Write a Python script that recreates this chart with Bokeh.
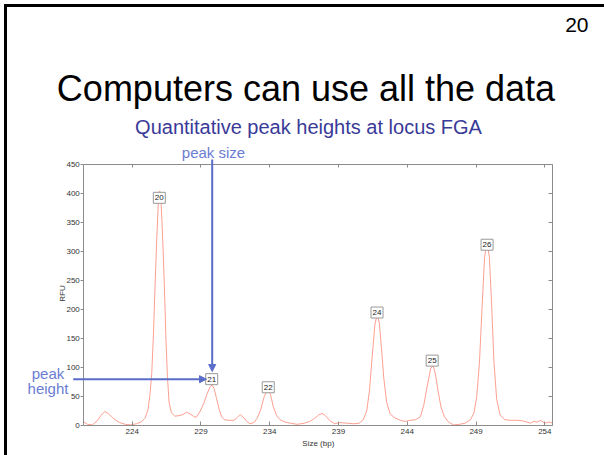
import math
from bokeh.plotting import figure
from bokeh.models import Range1d, LinearAxis, FixedTicker, Label, Arrow, NormalHead, ColumnDataSource
from bokeh.embed import file_html
from bokeh.resources import INLINE
from bokeh.core.properties import value

# ---- data ----
size_bp = [220.48, 220.75, 221.1, 221.45, 221.75, 222.0, 222.25, 222.5, 222.8, 223.1, 223.5, 223.9,
           224.3, 224.65, 224.95, 225.15, 225.3, 225.42, 225.55, 225.66, 225.78, 225.9, 226.0, 226.1,
           226.22, 226.34, 226.45, 226.56, 226.68, 226.85, 227.1, 227.4, 227.7, 227.95, 228.2, 228.45,
           228.65, 228.95, 229.2, 229.45, 229.65, 229.8, 229.95, 230.12, 230.3, 230.5, 230.7, 231.0,
           231.4, 231.65, 231.85, 232.05, 232.3, 232.55, 232.85, 233.1, 233.35, 233.6, 233.85, 234.05,
           234.25, 234.5, 234.75, 235.1, 235.5, 236.0, 236.5, 236.9, 237.25, 237.55, 237.8, 238.05,
           238.35, 238.7, 239.1, 239.6, 240.1, 240.5, 240.8, 241.05, 241.25, 241.45, 241.65, 241.82,
           241.98, 242.15, 242.3, 242.5, 242.75, 243.1, 243.5, 243.85, 244.2, 244.6, 244.95, 245.2,
           245.45, 245.7, 245.88, 246.05, 246.25, 246.45, 246.7, 247.0, 247.35, 247.8, 248.2, 248.6,
           248.85, 249.05, 249.25, 249.45, 249.62, 249.8, 249.97, 250.13, 250.3, 250.5, 250.75, 251.1,
           251.5, 252.0, 252.4, 252.7, 252.95, 253.2, 253.45, 253.7, 254.0, 254.3, 254.58]
rfu = [6, 2, 1, 8, 18, 24, 21, 15, 9, 5, 2, 1,
       3, 6, 13, 28, 55, 90, 160, 240, 320, 385, 405, 385,
       320, 240, 150, 85, 40, 22, 16, 17, 19, 23, 20, 16,
       14, 25, 38, 55, 66, 70, 64, 48, 30, 15, 10, 9,
       9, 14, 19, 15, 8, 3, 5, 13, 28, 50, 62, 54,
       33, 17, 10, 6, 4, 2, 4, 7, 12, 18, 21, 17,
       9, 3, 5, 4, 3, 4, 10, 25, 60, 120, 175, 192,
       175, 125, 80, 40, 20, 13, 9, 7, 9, 10, 15, 35,
       68, 98, 104, 88, 58, 32, 15, 6, 1, 2, 4, 10,
       22, 50, 110, 210, 290, 318, 290, 210, 110, 45, 18, 10,
       9, 9, 8, 6, 4, 7, 6, 9, 4, 6, 4]

peak_alleles = ["20", "21", "22", "24", "25", "26"]
peak_label_x = [225.97, 229.78, 233.89, 241.80, 245.81, 249.80]
peak_label_y = [393, 80, 66, 195, 112, 312]

x_ticks = [224, 229, 234, 239, 244, 249, 254]
y_ticks = [0, 50, 100, 150, 200, 250, 300, 350, 400, 450]
x_min, x_max = 220.48, 254.58
y_min, y_max = 0, 450

# ---- layout (canvas pixels) ----
W, H = 604, 455
PL, PR, PT, PB = 83.3, 552.3, 164.3, 425.0   # plot box edges
sx = (PR - PL) / (x_max - x_min)
sy = (PB - PT) / (y_max - y_min)


def dx(px):  # canvas pixel -> data x
    return x_min + (px - PL) / sx


def dy(py):  # canvas pixel -> data y
    return y_min + (PB - py) / sy


FONT = "Liberation Sans"
BLUE = "#5a6ec9"
TXTBLUE = "#6a7dd3"
AXC = "#8c8c8c"

p = figure(width=W, height=H, output_backend="svg", toolbar_location=None,
           x_range=Range1d(dx(0), dx(W)), y_range=Range1d(dy(H), dy(0)),
           min_border=0, x_axis_location=None, y_axis_location=None)
p.grid.visible = False
p.outline_line_color = None
p.background_fill_color = "white"
p.border_fill_color = "white"


def style_axis(ax, show_labels, tin, tout):
    ax.axis_line_color = AXC
    ax.major_tick_line_color = AXC
    ax.minor_tick_line_color = None
    ax.major_tick_in = tin
    ax.major_tick_out = tout
    ax.major_label_text_font = FONT
    ax.major_label_text_font_size = "8px"
    ax.major_label_text_color = "#333333" if show_labels else None
    ax.major_label_standoff = 3


xb = LinearAxis(ticker=FixedTicker(ticks=x_ticks), fixed_location=y_min, bounds=(x_min, x_max))
style_axis(xb, True, 4, 0)
p.add_layout(xb, "below")
xt = LinearAxis(ticker=FixedTicker(ticks=x_ticks), fixed_location=y_max, bounds=(x_min, x_max))
style_axis(xt, False, 3, 0)
p.add_layout(xt, "above")
yl = LinearAxis(ticker=FixedTicker(ticks=y_ticks), fixed_location=x_min, bounds=(y_min, y_max))
style_axis(yl, True, 0, 3)
yl.major_label_standoff = 1
p.add_layout(yl, "left")
yr = LinearAxis(ticker=FixedTicker(ticks=y_ticks), fixed_location=x_max, bounds=(y_min, y_max))
style_axis(yr, False, 4, 0)
p.add_layout(yr, "right")

# trace
p.line(size_bp, rfu, line_color="#ff9f90", line_width=1)

# peak labels
src = ColumnDataSource(dict(x=peak_label_x, y=peak_label_y, t=peak_alleles))
p.rect("x", "y", width=12, height=11, width_units="screen", height_units="screen", source=src,
       fill_color="white", line_color="#999999", line_width=1)
p.text("x", "y", text="t", source=src, text_align="center", text_baseline="middle",
       text_font=value(FONT), text_font_size="8px", text_color="#222222")


def add_text(px, py, text, size, color, align="center", angle=0.0):
    p.add_layout(Label(x=dx(px), y=dy(py), text=text, text_align=align, angle=angle,
                       text_baseline="alphabetic", text_font=FONT, text_font_size=size,
                       text_color=color))


add_text(317.8, 443, "Size (bp)", "8px", "#333333")
add_text(61.5, 293, "RFU", "8px", "#333333", angle=math.pi / 2)
add_text(305.5, 88, "Computers can use all the data", "36px", "black")
add_text(308, 126, "Quantitative peak heights at locus FGA", "20px", "#3a3a98")
add_text(588, 24, "20", "21px", "black", align="right")
add_text(213, 152, "peak size", "15px", TXTBLUE)
add_text(47.5, 373, "peak", "15px", TXTBLUE)
add_text(47.5, 388, "height", "15px", TXTBLUE)

# arrows
p.add_layout(Arrow(end=NormalHead(size=7, fill_color=BLUE, line_color=BLUE),
                   x_start=dx(211.7), y_start=dy(159), x_end=dx(211.7), y_end=dy(371),
                   line_color=BLUE, line_width=2))
p.add_layout(Arrow(end=NormalHead(size=7, fill_color=BLUE, line_color=BLUE),
                   x_start=dx(72.7), y_start=dy(378.7), x_end=dx(206), y_end=dy(378.7),
                   line_color=BLUE, line_width=2))

# slide border
p.add_layout(Arrow(end=None, x_start=dx(3.5), y_start=dy(5), x_end=dx(W), y_end=dy(5),
                   line_color="black", line_width=3))
p.add_layout(Arrow(end=None, x_start=dx(5), y_start=dy(3.5), x_end=dx(5), y_end=dy(H),
                   line_color="black", line_width=3))

open("out.html", "w").write(file_html(p, INLINE))
